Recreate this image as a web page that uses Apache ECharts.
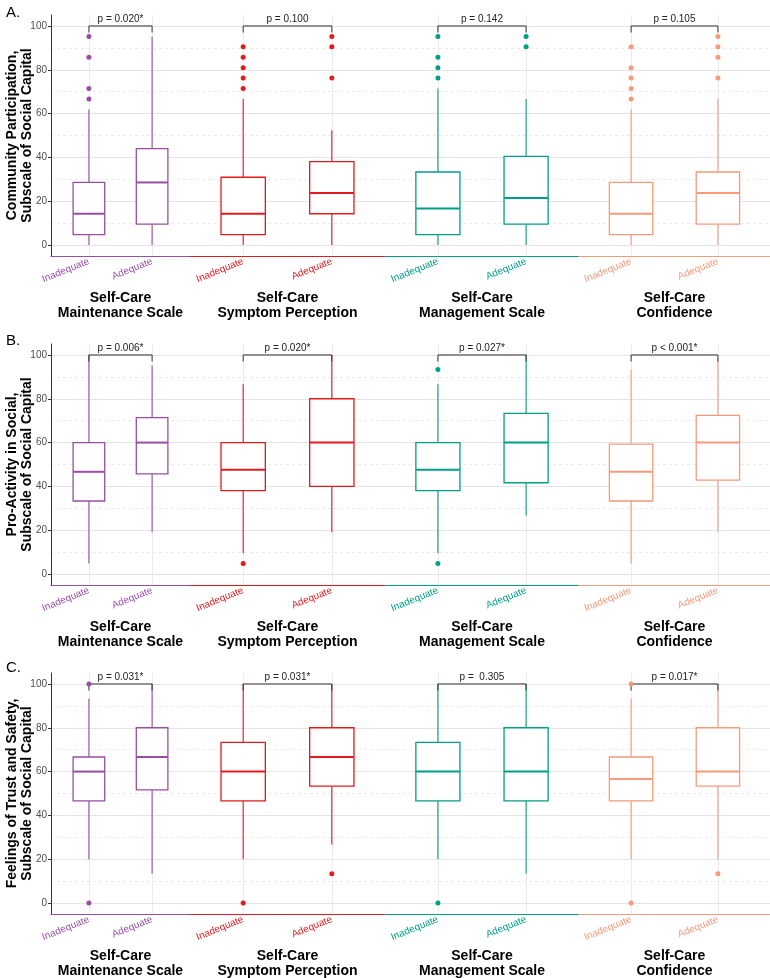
<!DOCTYPE html>
<html>
<head>
<meta charset="utf-8">
<script src="https://cdn.jsdelivr.net/npm/echarts@6/dist/echarts.min.js"></script>
<style>
html, body { margin: 0; padding: 0; background: #fff; }
#chart { width: 770px; height: 978px; }
</style>
</head>
<body>
<div id="chart"></div>
<script>
const groupNames = ['Self-Care\nMaintenance Scale', 'Self-Care\nSymptom Perception', 'Self-Care\nManagement Scale', 'Self-Care\nConfidence'];
const levels = ['Inadequate', 'Adequate'];
const groupColors = ['#984EA3', '#E41A1C', '#00A087', '#F8997A'];
const panelTags = ['A.', 'B.', 'C.'];
const yTitles = [
    'Community Participation,\nSubscale of Social Capital',
    'Pro-Activity in Social,\nSubscale of Social Capital',
    'Feelings of Trust and Safety,\nSubscale of Social Capital'
];
const yTicks = [0, 20, 40, 60, 80, 100];
const yMinor = [10, 30, 50, 70, 90];

// [min, Q1, median, Q3, max] for each group: Inadequate, then Adequate
const communityStats = [
    [[0, 4.76, 14.29, 28.57, 61.9], [0, 9.52, 28.57, 44.05, 95.24]],
    [[0, 4.76, 14.29, 30.95, 66.67], [0, 14.29, 23.81, 38.1, 52.38]],
    [[0, 4.76, 16.67, 33.33, 71.43], [0, 9.52, 21.43, 40.48, 66.67]],
    [[0, 4.76, 14.29, 28.57, 61.9], [0, 9.52, 23.81, 33.33, 66.67]]
];
const communityOutliers = [
    [[95.24, 85.71, 71.43, 66.67], []],
    [[90.48, 85.71, 80.95, 76.19, 71.43], [95.24, 90.48, 76.19]],
    [[95.24, 85.71, 80.95, 76.19], [95.24, 90.48]],
    [[90.48, 80.95, 76.19, 71.43, 66.67], [95.24, 90.48, 85.71, 76.19]]
];
const communityP = ['p = 0.020*', 'p = 0.100', 'p = 0.142', 'p = 0.105'];

const proactivityStats = [
    [[4.76, 33.33, 46.67, 60, 100], [19.05, 45.71, 60, 71.43, 95.24]],
    [[9.52, 38.1, 47.62, 60, 86.67], [19.05, 40, 60, 80, 100]],
    [[9.52, 38.1, 47.62, 60, 86.67], [26.67, 41.67, 60, 73.33, 100]],
    [[4.76, 33.33, 46.67, 59.33, 93.33], [19.05, 42.86, 60, 72.38, 98]]
];
const proactivityOutliers = [
    [[], []],
    [[4.76], []],
    [[93.33, 4.76], []],
    [[], []]
];
const proactivityP = ['p = 0.006*', 'p = 0.020*', 'p = 0.027*', 'p < 0.001*'];

const trustStats = [
    [[20, 46.67, 60, 66.67, 93.33], [13.33, 51.67, 66.67, 80, 100]],
    [[20, 46.67, 60, 73.33, 100], [26.67, 53.33, 66.67, 80, 100]],
    [[20, 46.67, 60, 73.33, 100], [13.33, 46.67, 60, 80, 100]],
    [[20, 46.67, 56.67, 66.67, 93.33], [20, 53.33, 60, 80, 100]]
];
const trustOutliers = [
    [[100, 0], []],
    [[0], [13.33]],
    [[0], []],
    [[100, 0], [13.33]]
];
const trustP = ['p = 0.031*', 'p = 0.031*', 'p =  0.305', 'p = 0.017*'];

const panels = [
    { stats: communityStats, outliers: communityOutliers, p: communityP },
    { stats: proactivityStats, outliers: proactivityOutliers, p: proactivityP },
    { stats: trustStats, outliers: trustOutliers, p: trustP }
];

const FONT = '"Liberation Sans", Arial, sans-serif';
const panelTop = [15, 344, 673];
const titleTop = [0, 328, 655];
const plotHeight = 241;
const groupLeft = [51, 190, 385, 579];
const groupWidth = [139, 195, 194, 191];
// two levels with ggplot's 0.6 padding -> slots 3 and 8 of a 12 slot axis
const slots = [3, 8];
const slotLabels = [];
for (let i = 0; i < 12; i++) slotLabels.push(i === slots[0] ? levels[0] : i === slots[1] ? levels[1] : '');
const onSlot = (i) => i === slots[0] || i === slots[1];

function boxRenderer(color) {
    return function (params, api) {
        const x = api.value(0);
        const half = api.size([1, 0])[0] * 1.25;
        const lo = api.coord([x, api.value(1)]);
        const q1 = api.coord([x, api.value(2)])[1];
        const med = api.coord([x, api.value(3)])[1];
        const q3 = api.coord([x, api.value(4)])[1];
        const hi = api.coord([x, api.value(5)])[1];
        const cx = lo[0];
        return {
            type: 'group',
            children: [
                { type: 'line', shape: { x1: cx, y1: lo[1], x2: cx, y2: q1 }, style: { stroke: color, lineWidth: 1.1 } },
                { type: 'line', shape: { x1: cx, y1: q3, x2: cx, y2: hi }, style: { stroke: color, lineWidth: 1.1 } },
                { type: 'rect', shape: { x: cx - half, y: q3, width: half * 2, height: q1 - q3 },
                  style: { fill: '#fff', stroke: color, lineWidth: 1.3 } },
                { type: 'line', shape: { x1: cx - half, y1: med, x2: cx + half, y2: med }, style: { stroke: color, lineWidth: 2 } }
            ]
        };
    };
}

function bracketRenderer(text) {
    return function (params, api) {
        const a = api.coord([api.value(0), api.value(2)]);
        const b = api.coord([api.value(1), api.value(2)]);
        const drop = api.coord([api.value(0), api.value(2) - 3])[1] - a[1];
        return {
            type: 'group',
            children: [
                { type: 'polyline', shape: { points: [[a[0], a[1] + drop], a, b, [b[0], b[1] + drop]] },
                  style: { stroke: '#333', lineWidth: 1, fill: null } },
                { type: 'text', x: (a[0] + b[0]) / 2, y: a[1] - 2,
                  style: { text: text, align: 'center', verticalAlign: 'bottom', fill: '#222', fontSize: 10, fontFamily: FONT } }
            ]
        };
    };
}

const grid = [], xAxis = [], yAxis = [], series = [], title = [];

panels.forEach(function (panel, p) {
    title.push({ text: panelTags[p], left: 1, top: titleTop[p],
        textStyle: { fontSize: 15, fontWeight: 'normal', color: '#000', fontFamily: FONT } });
    for (let g = 0; g < 4; g++) {
        const k = p * 4 + g;
        const color = groupColors[g];
        grid.push({ left: groupLeft[g], top: panelTop[p], width: groupWidth[g], height: plotHeight,
            containLabel: false, outerBoundsMode: 'none' });
        xAxis.push({
            type: 'category', gridIndex: k, data: slotLabels, boundaryGap: false,
            axisLine: { onZero: false, lineStyle: { color: color, width: 1 } },
            axisTick: { show: false },
            axisLabel: { interval: onSlot, rotate: 22, color: color, fontSize: 10, margin: 5, fontFamily: FONT },
            splitLine: { show: true, interval: onSlot, lineStyle: { color: '#ebebeb' } },
            name: groupNames[g], nameLocation: 'middle', nameGap: 35, nameMoveOverlap: false,
            nameTextStyle: { fontSize: 14, fontWeight: 'bold', color: '#000', lineHeight: 15, fontFamily: FONT }
        });
        yAxis.push({
            type: 'value', gridIndex: k, min: -5, max: 105,
            axisLine: { show: g === 0, onZero: false, lineStyle: { color: '#333' } },
            axisTick: { show: g === 0, customValues: yTicks, length: 3, lineStyle: { color: '#333' } },
            axisLabel: { show: g === 0, customValues: yTicks, color: '#4d4d4d', fontSize: 10, margin: 4, fontFamily: FONT },
            splitLine: { show: true, lineStyle: { color: '#e4e4e4' } },
            name: g === 0 ? yTitles[p] : '', nameLocation: 'middle', nameGap: 16, nameMoveOverlap: false,
            nameTextStyle: { fontSize: 14, fontWeight: 'bold', color: '#000', lineHeight: 15, fontFamily: FONT }
        });
        yAxis.push({
            type: 'value', gridIndex: k, min: -5, max: 105, position: 'left',
            axisLine: { show: false }, axisTick: { show: false, customValues: yMinor },
            axisLabel: { show: false, customValues: yMinor },
            splitLine: { show: true, lineStyle: { color: '#ebebeb', type: [3, 3] } }
        });
        series.push({
            type: 'custom', xAxisIndex: k, yAxisIndex: 2 * k,
            renderItem: boxRenderer(color),
            data: panel.stats[g].map((s, i) => [slots[i]].concat(s))
        });
        const pts = [];
        panel.outliers[g].forEach((vals, i) => vals.forEach(v => pts.push([slots[i], v])));
        series.push({
            type: 'scatter', xAxisIndex: k, yAxisIndex: 2 * k, symbolSize: 5,
            itemStyle: { color: color, opacity: 1 }, data: pts
        });
        series.push({
            type: 'custom', xAxisIndex: k, yAxisIndex: 2 * k,
            renderItem: bracketRenderer(panel.p[g]),
            data: [[slots[0], slots[1], 100]]
        });
    }
});

const chart = echarts.init(document.getElementById('chart'));
chart.setOption({
    animation: false,
    backgroundColor: '#fff',
    textStyle: { fontFamily: FONT },
    title: title,
    grid: grid,
    xAxis: xAxis,
    yAxis: yAxis,
    series: series
});
</script>
</body>
</html>
